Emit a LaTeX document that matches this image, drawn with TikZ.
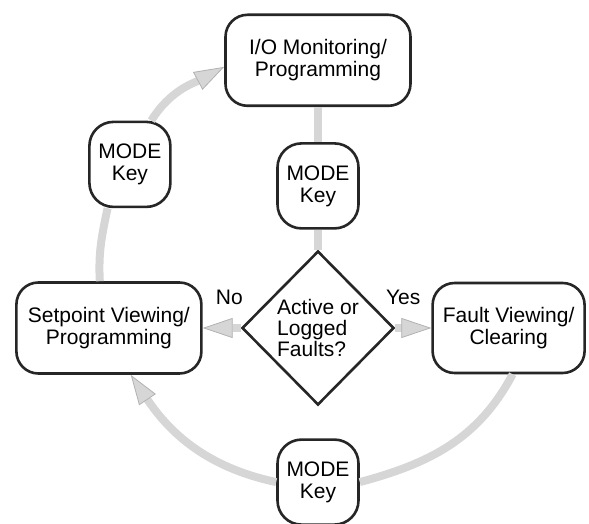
\documentclass[tikz,border=0pt]{standalone}
\usepackage{fontspec}
\setmainfont{Liberation Sans}
\usetikzlibrary{shapes.geometric, arrows.meta, positioning}
\tikzset{
  box/.style={rectangle, rounded corners=22pt, draw=black!85, line width=2.6pt, fill=white, align=center, font=\fontsize{21}{22}\selectfont, inner sep=2pt},
  state/.style={box, minimum width=185pt, minimum height=91pt},
  modekey/.style={box, rounded corners=24pt, minimum width=81pt, minimum height=85pt},
  decision/.style={diamond, draw=black!85, line width=2.6pt, fill=white, align=left, font=\fontsize{21}{21}\selectfont, inner sep=0pt, minimum width=152pt, minimum height=154pt},
  link/.style={draw=black!16, line width=8pt},
  flow/.style={link, -{Triangle[length=30pt, width=20pt, line width=0.8pt, color=black!30, fill=black!16]}},
  lbl/.style={font=\fontsize{21}{22}\selectfont, inner sep=0pt},
}
\begin{document}
\begin{tikzpicture}[x=1pt, y=1pt]
\useasboundingbox (0,0) rectangle (589,-524);
\node[decision] (dec) at (318,-328) {Active or\\Logged\\Faults?};
\node[modekey, above=20pt of dec] (keyT) {MODE\\Key};
\node[state, above=35pt of keyT] (io) {I/O Monitoring/\\Programming};
\node[state, left=38pt of dec] (setp) {Setpoint Viewing/\\Programming};
\node[state, right=36pt of dec, minimum width=152pt, minimum height=90pt] (fault) {Fault Viewing/\\Clearing};
\node[modekey, below=32pt of dec] (keyB) {MODE\\Key};
\node[modekey, above=73pt of setp, xshift=21pt] (keyL) {MODE\\Key};

\draw[link] (io) -- (keyT);
\draw[link] (keyT) -- (dec);
\draw[flow] (dec.west) -- node[lbl, pos=0.3, above=19pt] {No} (setp.east);
\draw[flow] (dec.east) -- node[lbl, pos=0.22, above=19pt] {Yes} (fault.west);
\draw[link] (fault.-85) to[out=-118, in=15] (keyB.east);
\draw[flow] (keyB.west) to[out=168, in=-56] (setp.-65);
\draw[link] (setp.101) to[out=93, in=258] (keyL.243);
\draw[flow] (keyL.64) to[out=58, in=208] (io.184);
\end{tikzpicture}
\end{document}
